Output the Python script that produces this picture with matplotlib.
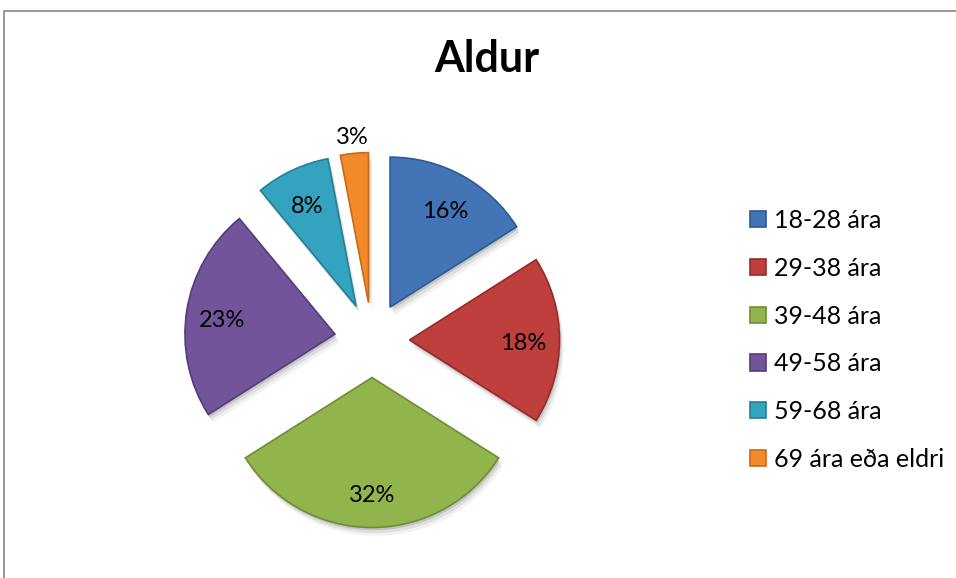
import numpy as np
import matplotlib.pyplot as plt
import matplotlib.patheffects as pe
from matplotlib.patches import Rectangle

plt.rcParams['font.family'] = ['Lato', 'DejaVu Sans']

labels = ['18-28 ára', '29-38 ára', '39-48 ára', '49-58 ára', '59-68 ára', '69 ára eða eldri']
values = [16, 18, 32, 23, 8, 3]
colors = ['#4274B6', '#BE3F3B', '#91B44C', '#72549A', '#34A3C0', '#F2892A']
edges = ['#2E5A94', '#952C2A', '#6F8E34', '#553C7A', '#247F98', '#C96A15']

W, H = 956, 578
R = 150
fig = plt.figure(figsize=(W / 100, H / 100), dpi=100)
ax = fig.add_axes([0, 0, 1, 1])

# exploded pie, clockwise from 12 o'clock like Excel (explode is in data units here)
wedges, _ = ax.pie(values, colors=colors, startangle=90, counterclock=False,
                   explode=[0.25 * R] * len(values), radius=R, center=(372, 238),
                   wedgeprops=dict(linewidth=1.2), frame=True)
# soft-ish drop shadow, faked with a few offset copies
shadow = [pe.SimplePatchShadow(offset=(1, -2), shadow_rgbFace='black', alpha=0.12),
          pe.SimplePatchShadow(offset=(2, -4), shadow_rgbFace='black', alpha=0.08),
          pe.SimplePatchShadow(offset=(3, -6), shadow_rgbFace='black', alpha=0.05),
          pe.Normal()]
for w, ec in zip(wedges, edges):
    w.set_edgecolor(ec)
    w.set_path_effects(shadow)

# percentage labels, the small slice gets its label outside
for i, w in enumerate(wedges):
    mid = np.deg2rad((w.theta1 + w.theta2) / 2)
    dist = 1.13 if values[i] < 5 else 0.76
    x = w.center[0] + dist * w.r * np.cos(mid)
    y = w.center[1] + dist * w.r * np.sin(mid) - 4
    ax.text(x, y, f'{values[i]}%', ha='center', va='center', fontsize=17, color='black')

ax.set_xlim(0, W)
ax.set_ylim(0, H)
ax.axis('off')

# chart frame (runs off right and bottom edge)
ax.add_patch(Rectangle((4.5, -10), W + 10, H - 10.5 + 10, fill=False,
                       edgecolor='#868686', lw=1.2, clip_on=False))

fig.text(487 / W, 1 - 59 / H, 'Aldur', ha='center', va='center',
         fontsize=31, fontweight='bold')

leg = ax.legend(wedges, labels, loc='upper left', bbox_to_anchor=(750 / W, 1 - 209 / H),
                bbox_transform=fig.transFigure, frameon=False, fontsize=18,
                handlelength=0.62, handleheight=0.62, handletextpad=0.33,
                labelspacing=0.99, borderpad=0, borderaxespad=0)
for h in leg.legend_handles:
    h.set_path_effects([pe.Normal()])

fig.savefig('out.png', dpi=100, facecolor='white')
